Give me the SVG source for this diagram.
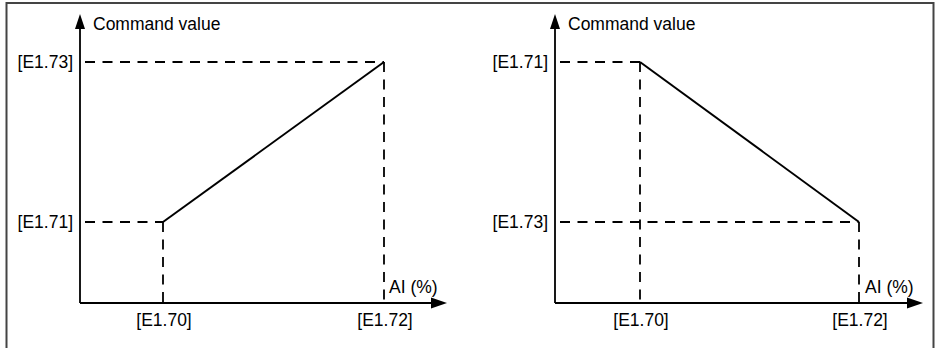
<svg xmlns="http://www.w3.org/2000/svg" width="939" height="348" viewBox="0 0 939 348">
<style>
text{font-family:"Liberation Sans",Arial,sans-serif;font-size:17.5px;fill:#000}
.r{text-anchor:end}
.m{text-anchor:middle}
.ax{stroke:#000;stroke-width:1.8;fill:none}
.d{stroke:#000;stroke-width:1.8;fill:none;stroke-dasharray:10 7.5}
.s{stroke:#000;stroke-width:2;fill:none}
.ah{fill:#000}
</style>
<rect width="939" height="348" fill="#fff"/>
<path d="M6.5,348 V3 H933.5 V348" fill="none" stroke="#444" stroke-width="2"/>
<g id="chart-left">
<g id="left-axes">
<path class="ax" d="M80,303 V28 M80,303 H432"/>
<polygon class="ah" points="80,14 75,29 85,29"/>
<polygon class="ah" points="447,303 431,297.5 431,308.5"/>
</g>
<g id="left-connectors">
<path class="d" d="M85,62 H384"/>
<path class="d" d="M384,62 V303"/>
<path class="d" d="M85,222 H163"/>
<path class="d" d="M163,222 V303"/>
<path class="s" d="M163,222 L384,62"/>
</g>
<g id="left-labels">
<text x="93" y="30">Command value</text>
<text class="r" x="73" y="68">[E1.73]</text>
<text class="r" x="73" y="228">[E1.71]</text>
<text x="389" y="293">AI (%)</text>
<text class="m" x="164" y="326">[E1.70]</text>
<text class="m" x="385" y="326">[E1.72]</text>
</g>
</g>
<g id="chart-right">
<g id="right-axes">
<path class="ax" d="M555,303 V28 M555,303 H908"/>
<polygon class="ah" points="555,14 550,29 560,29"/>
<polygon class="ah" points="923,303 907,297.5 907,308.5"/>
</g>
<g id="right-connectors">
<path class="d" d="M560,62 H640"/>
<path class="d" d="M640,62 V303"/>
<path class="d" d="M560,222 H859"/>
<path class="d" d="M859,222 V303"/>
<path class="s" d="M640,62 L859,222"/>
</g>
<g id="right-labels">
<text x="568" y="30">Command value</text>
<text class="r" x="548" y="68">[E1.71]</text>
<text class="r" x="548" y="228">[E1.73]</text>
<text x="865" y="293">AI (%)</text>
<text class="m" x="641" y="326">[E1.70]</text>
<text class="m" x="860" y="326">[E1.72]</text>
</g>
</g>
</svg>
